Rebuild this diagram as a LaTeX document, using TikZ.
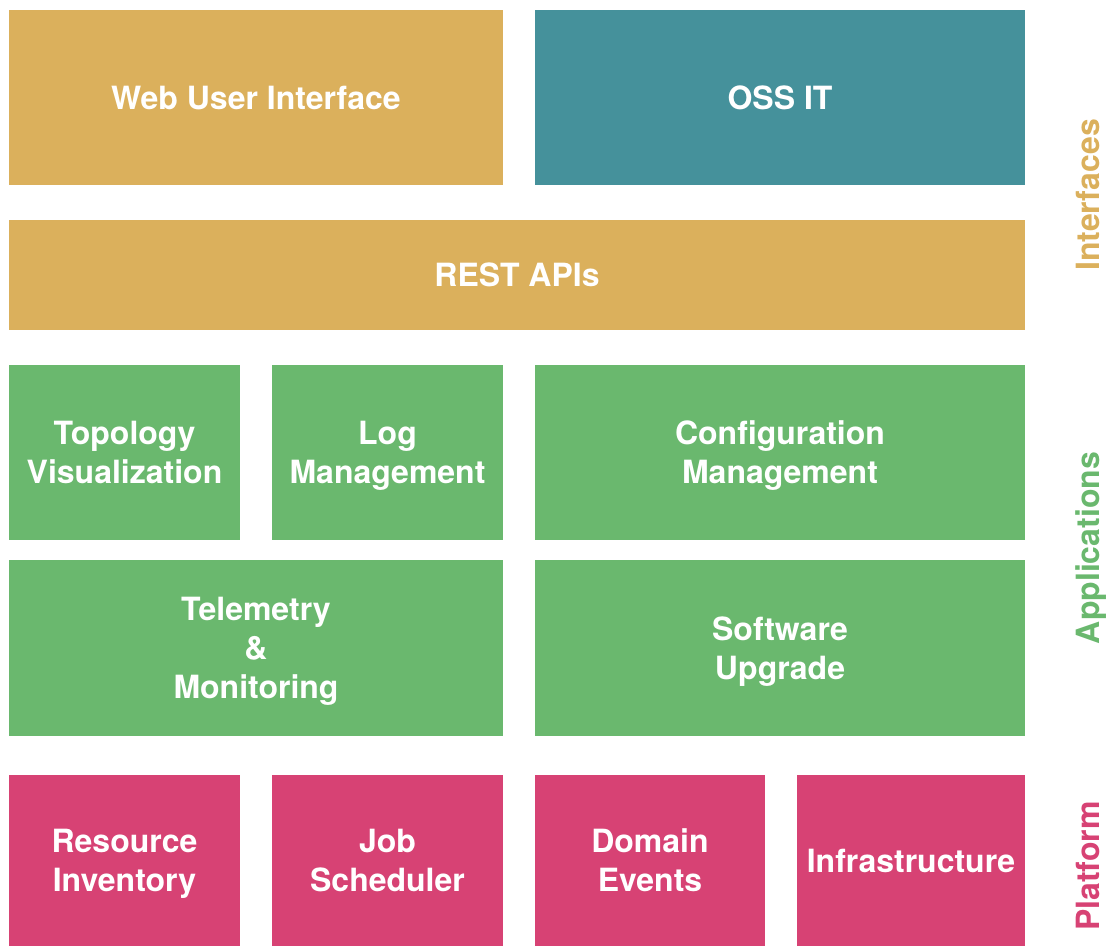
\documentclass[tikz,border=0pt]{standalone}
\usepackage{fontspec}
\setmainfont{TeX Gyre Heros}
\usepackage{tikz}
\usetikzlibrary{positioning}
\definecolor{ifcgold}{HTML}{DBB05C}
\definecolor{ossteal}{HTML}{45919B}
\definecolor{appgreen}{HTML}{6AB86E}
\definecolor{platpink}{HTML}{D74274}

\begin{document}
\begin{tikzpicture}[x=1pt, y=-1pt, node distance = 35pt and 32pt,
layer/.style ={rectangle, fill = #1, text = white, inner sep = 0pt, outer sep = 0pt, text depth = 0pt, align = center, font = \fontsize{32}{39}\selectfont\bfseries},
side/.style ={rotate = 90, anchor = base, text = #1, inner sep = 0pt, font = \fontsize{32}{39}\selectfont\bfseries}]
\useasboundingbox (0,0) rectangle (1107,946);
% interfaces
\node[layer = ifcgold, minimum width = 494pt, minimum height = 175pt, anchor = north west] (web) at (9,10) {Web User Interface};
\node[layer = ossteal, minimum width = 490pt, minimum height = 175pt] (oss) [right = of web] {OSS IT};
\node[layer = ifcgold, minimum width = 1016pt, minimum height = 110pt, anchor = north west] (rest) at (9,220) {REST APIs};
% applications
\node[layer = appgreen, minimum width = 231pt, minimum height = 175pt, anchor = north west] (topo) at (9,365) {Topology\\Visualization};
\node[layer = appgreen, minimum width = 231pt, minimum height = 175pt] (log) [right = of topo] {Log\\Management};
\node[layer = appgreen, minimum width = 490pt, minimum height = 175pt] (conf) [right = of log] {Configuration\\Management};
\node[layer = appgreen, minimum width = 494pt, minimum height = 176pt, anchor = north west] (tele) at (9,560) {Telemetry\\\&\\Monitoring};
\node[layer = appgreen, minimum width = 490pt, minimum height = 176pt] (soft) [right = of tele] {Software\\Upgrade};
% platform
\node[layer = platpink, minimum width = 231pt, minimum height = 171pt, anchor = north west] (res) at (9,775) {Resource\\Inventory};
\node[layer = platpink, minimum width = 231pt, minimum height = 171pt] (job) [right = of res] {Job\\Scheduler};
\node[layer = platpink, minimum width = 230pt, minimum height = 171pt] (dom) [right = of job] {Domain\\Events};
\node[layer = platpink, minimum width = 228pt, minimum height = 171pt] (infra) [right = of dom] {Infrastructure};
% layer names
\node[side = ifcgold] (ifc) at (1099,195) {Interfaces};
\node[side = appgreen] (app) at (1099,548) {Applications};
\node[side = platpink] (plat) at (1099,866) {Platform};
\end{tikzpicture}
\end{document}
